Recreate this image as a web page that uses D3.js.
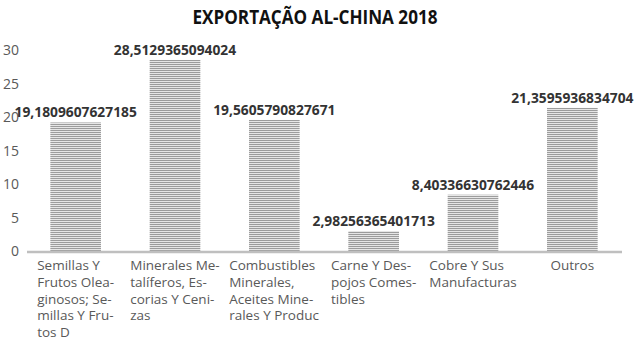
<!DOCTYPE html>
<html><head><meta charset="utf-8">
<script src="https://cdn.jsdelivr.net/npm/d3@7"></script>
<style>body{margin:0;background:#fff}svg{display:block}text{font-family:"Open Sans",sans-serif}</style>
</head><body>
<svg id="c" width="635" height="342"></svg>
<script>
const categories = [
  ["Semillas Y","Frutos Olea-","ginosos; Se-","millas Y Fru-","tos D"],
  ["Minerales Me-","talíferos, Es-","corias Y Ceni-","zas"],
  ["Combustibles","Minerales,","Aceites Mine-","rales Y Produc"],
  ["Carne Y Des-","pojos Comes-","tibles"],
  ["Cobre Y Sus","Manufacturas"],
  ["Outros"]
];
const values = [19.1809607627185, 28.5129365094024, 19.5605790827671, 2.98256365401713, 8.40336630762446, 21.3595936834704];
const valueLabels = ["19,1809607627185","28,5129365094024","19,5605790827671","2,98256365401713","8,40336630762446","21,3595936834704"];
const yTicks = [0,5,10,15,20,25,30];
const title = "EXPORTAÇÃO AL-CHINA 2018";

const svg = d3.select("#c");
const defs = svg.append("defs");
const pat = defs.append("pattern").attr("id","stripes").attr("patternUnits","userSpaceOnUse")
  .attr("width",4).attr("height",2);
pat.append("rect").attr("width",4).attr("height",2).attr("fill","#e6e6e6");
pat.append("rect").attr("width",4).attr("height",1).attr("fill","#9c9c9c");

const x = d3.scaleBand().domain(d3.range(values.length)).range([26,622]).paddingInner(0.49).paddingOuter(0.245);
const y = d3.scaleLinear().domain([0,30]).range([251,50]);

svg.append("text").attr("x",315).attr("y",24).attr("text-anchor","middle")
  .attr("font-size",20).attr("font-weight","bold").attr("fill","#111")
  .attr("textLength",245).attr("lengthAdjust","spacingAndGlyphs").text(title);

// y axis labels
svg.append("g").selectAll("text").data(yTicks).join("text")
  .attr("x",19).attr("y",d=>y(d)+5).attr("text-anchor","end")
  .attr("font-size",14).attr("fill","#595959").text(d=>d);

// bars
svg.append("g").selectAll("rect").data(values).join("rect")
  .attr("x",(d,i)=>x(i)).attr("width",x.bandwidth())
  .attr("y",d=>y(d)).attr("height",d=>y(0)-y(d))
  .attr("fill","url(#stripes)");

// baseline
svg.append("line").attr("x1",27).attr("x2",622).attr("y1",y(0)+1).attr("y2",y(0)+1)
  .attr("stroke","#bfbfbf").attr("stroke-width",2.5);

// value labels
svg.append("g").selectAll("text").data(values).join("text")
  .attr("x",(d,i)=>x(i)+x.bandwidth()/2).attr("y",d=>y(d)-5)
  .attr("text-anchor","middle").attr("font-size",13.8).attr("font-weight","bold")
  .attr("fill","#333").text((d,i)=>valueLabels[i]);

// category labels
const cg = svg.append("g").attr("font-size",13.5).attr("fill","#595959");
categories.forEach((lines,i)=>{
  const cx = x(i)+x.bandwidth()/2;
  const g = cg.append("g");
  const t = g.append("text");
  lines.forEach((l,j)=>t.append("tspan").attr("x",0).attr("y",270+j*16.8).text(l));
  const w = t.node().getBBox().width;
  g.attr("transform",`translate(${cx - w/2},0)`);
});
</script>
</body></html>
